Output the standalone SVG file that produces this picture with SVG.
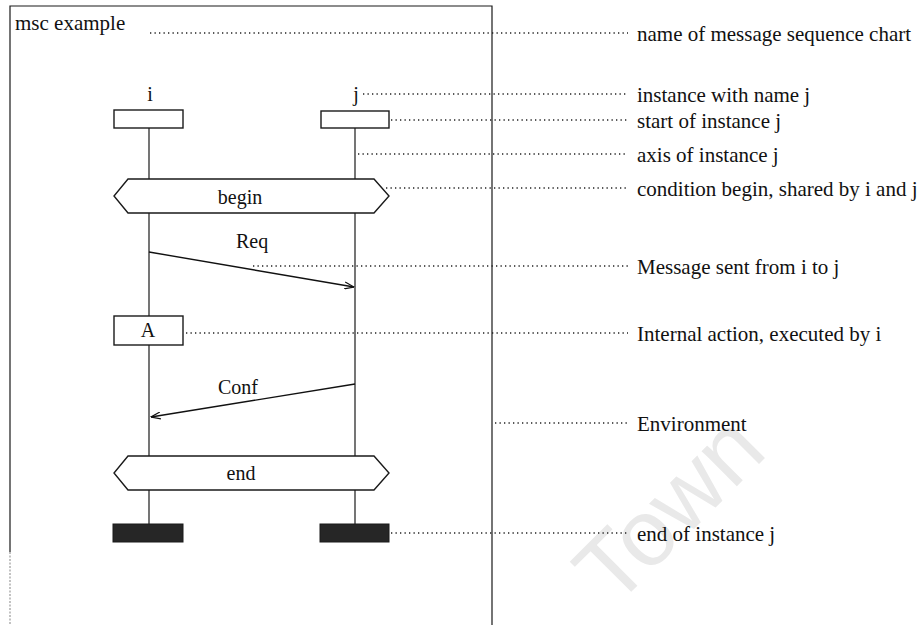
<svg xmlns="http://www.w3.org/2000/svg" width="920" height="625" viewBox="0 0 920 625">
  <style>
    .txt { font-family: "Liberation Serif", "Times New Roman", serif; font-size: 20px; fill: #111; }
    .note { font-family: "Liberation Serif", "Times New Roman", serif; font-size: 21px; fill: #111; }
    .mid { text-anchor: middle; }
    .line { stroke: #1a1a1a; stroke-width: 1.2; fill: none; }
    .box { stroke: #1a1a1a; stroke-width: 1.4; fill: #fff; }
    .stop { stroke: #1a1a1a; stroke-width: 1; fill: #262626; }
    .lead { stroke: #222; stroke-width: 1.3; stroke-dasharray: 1.3 3.2; fill: none; }
    .msg { stroke: #111; stroke-width: 1.4; fill: none; marker-end: url(#open); }
  </style>
  <defs>
    <marker id="open" viewBox="0 0 10 8" refX="9.5" refY="4" markerWidth="10" markerHeight="8" markerUnits="userSpaceOnUse" orient="auto">
      <path d="M0,0.5 L9.5,4 L0,7.5" fill="none" stroke="#111" stroke-width="1.2"/>
    </marker>
  </defs>

  <rect width="920" height="625" fill="#fff"/>

  <!-- faint watermark -->
  <text x="614" y="609" transform="rotate(-45 614 609)" font-family="'Liberation Sans', Arial, sans-serif" font-size="94" fill="#e9e9e9">Town</text>

  <!-- chart frame -->
  <g id="frame">
    <path class="line" d="M10,552 V6 H492 V625"/>
    <path d="M10,552 V625" stroke="#9a9a9a" stroke-width="1.2" stroke-dasharray="2 1.5" fill="none"/>
    <text class="note" x="15" y="30">msc example</text>
  </g>

  <!-- instance axes and messages -->
  <g id="connectors">
    <line class="line" x1="149" y1="128" x2="149" y2="524"/>
    <line class="line" x1="355" y1="128" x2="355" y2="524"/>
    <line class="msg" x1="149" y1="252" x2="354" y2="287"/>
    <line class="msg" x1="355" y1="384" x2="151" y2="417"/>
  </g>

  <g id="instance-i">
    <text class="txt mid" x="150" y="101">i</text>
    <rect class="box" x="114" y="110" width="69" height="18"/>
    <rect class="stop" x="113" y="524" width="70" height="18"/>
  </g>

  <g id="instance-j">
    <text class="txt mid" x="356" y="101">j</text>
    <rect class="box" x="321" y="111" width="68" height="17"/>
    <rect class="stop" x="320" y="524" width="69" height="18"/>
  </g>

  <g id="condition-begin">
    <polygon class="box" points="128,179 374,179 389,196 374,213 128,213 114,196"/>
    <text class="txt mid" x="240" y="204">begin</text>
  </g>

  <g id="message-req">
    <text class="txt" x="236" y="248">Req</text>
  </g>

  <g id="action-a">
    <rect class="box" x="114" y="316" width="69" height="29"/>
    <text class="txt mid" x="148" y="337">A</text>
  </g>

  <g id="message-conf">
    <text class="txt" x="218" y="394">Conf</text>
  </g>

  <g id="condition-end">
    <polygon class="box" points="128,456 374,456 389,473 374,490 128,490 114,473"/>
    <text class="txt mid" x="241" y="480">end</text>
  </g>

  <!-- explanatory leaders and notes -->
  <g id="annotations">
    <line class="lead" x1="150" y1="33" x2="628" y2="33"/>
    <line class="lead" x1="363" y1="94" x2="628" y2="94"/>
    <line class="lead" x1="391" y1="120" x2="628" y2="120"/>
    <line class="lead" x1="358" y1="154" x2="628" y2="154"/>
    <line class="lead" x1="386" y1="188" x2="628" y2="188"/>
    <line class="lead" x1="253" y1="266" x2="628" y2="266"/>
    <line class="lead" x1="186" y1="333" x2="628" y2="333"/>
    <line class="lead" x1="495" y1="423" x2="628" y2="423"/>
    <line class="lead" x1="391" y1="533" x2="628" y2="533"/>
    <text class="note" x="637" y="41">name of message sequence chart</text>
    <text class="note" x="637" y="102">instance with name j</text>
    <text class="note" x="637" y="128">start of instance j</text>
    <text class="note" x="637" y="162">axis of instance j</text>
    <text class="note" x="637" y="196">condition begin, shared by i and j</text>
    <text class="note" x="637" y="274">Message sent from i to j</text>
    <text class="note" x="637" y="341">Internal action, executed by i</text>
    <text class="note" x="637" y="431">Environment</text>
    <text class="note" x="637" y="541">end of instance j</text>
  </g>
</svg>
